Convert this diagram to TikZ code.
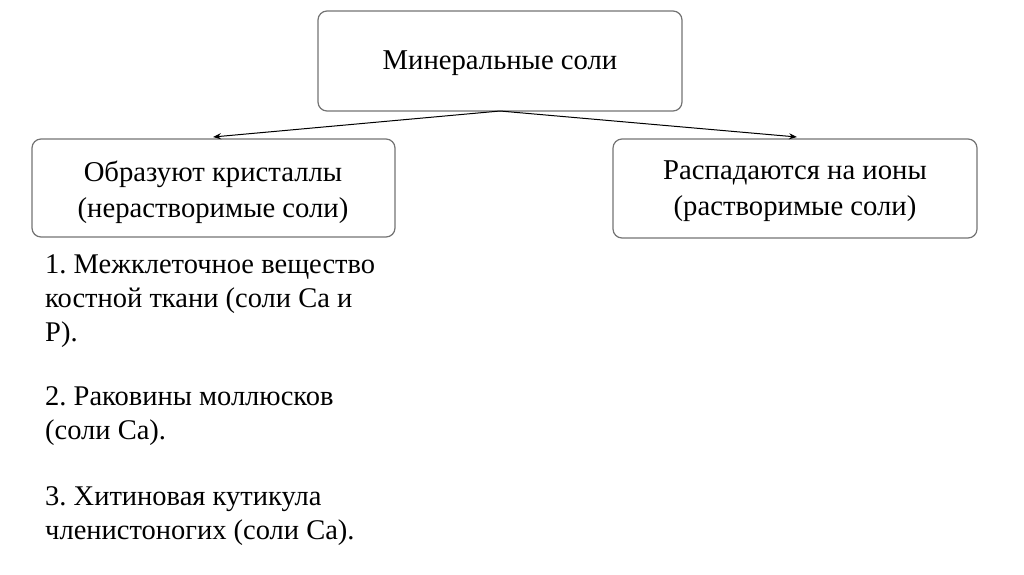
\documentclass[tikz,border=0pt]{standalone}
\usepackage{fontspec}
\setmainfont{Liberation Serif}
\usetikzlibrary{arrows.meta}
\frenchspacing
\begin{document}
\begin{tikzpicture}[x=1pt,y=-1pt,
  box/.style={draw=black!55,line width=1.2pt,rounded corners=9pt,inner sep=0pt},
  lbl/.style={font=\fontsize{28.7}{36}\selectfont,align=center},
  lst/.style={font=\fontsize{28.5}{34}\selectfont,align=left,anchor=north west,inner sep=0pt},
  arr/.style={-{Stealth[length=8pt,width=6pt]},line width=1pt}]
\useasboundingbox (0,0) rectangle (1024,574);
\draw[box] (318,11) rectangle (682,111);
\node[lbl] (top) at (500,63) {Минеральные соли};
\draw[box] (32,139) rectangle (395,237);
\node[lbl] (left) at (213,192) {Образуют кристаллы\\(нерастворимые соли)};
\draw[box] (613,139) rectangle (977,238);
\node[lbl] (right) at (795,191) {Распадаются на ионы\\(растворимые соли)};
\coordinate (s) at (500,111);
\coordinate (lt) at (213,137);
\coordinate (rt) at (797,137);
\draw[arr] (s) -- (lt);
\draw[arr] (s) -- (rt);
\node[lst] (l1) at (45,254) {1. Межклеточное вещество\\костной ткани (соли Ca и\\P).};
\node[lst] (l2) at (45,386) {2. Раковины моллюсков\\(соли Ca).};
\node[lst] (l3) at (45,486) {3. Хитиновая кутикула\\членистоногих (соли Ca).};
\end{tikzpicture}
\end{document}
